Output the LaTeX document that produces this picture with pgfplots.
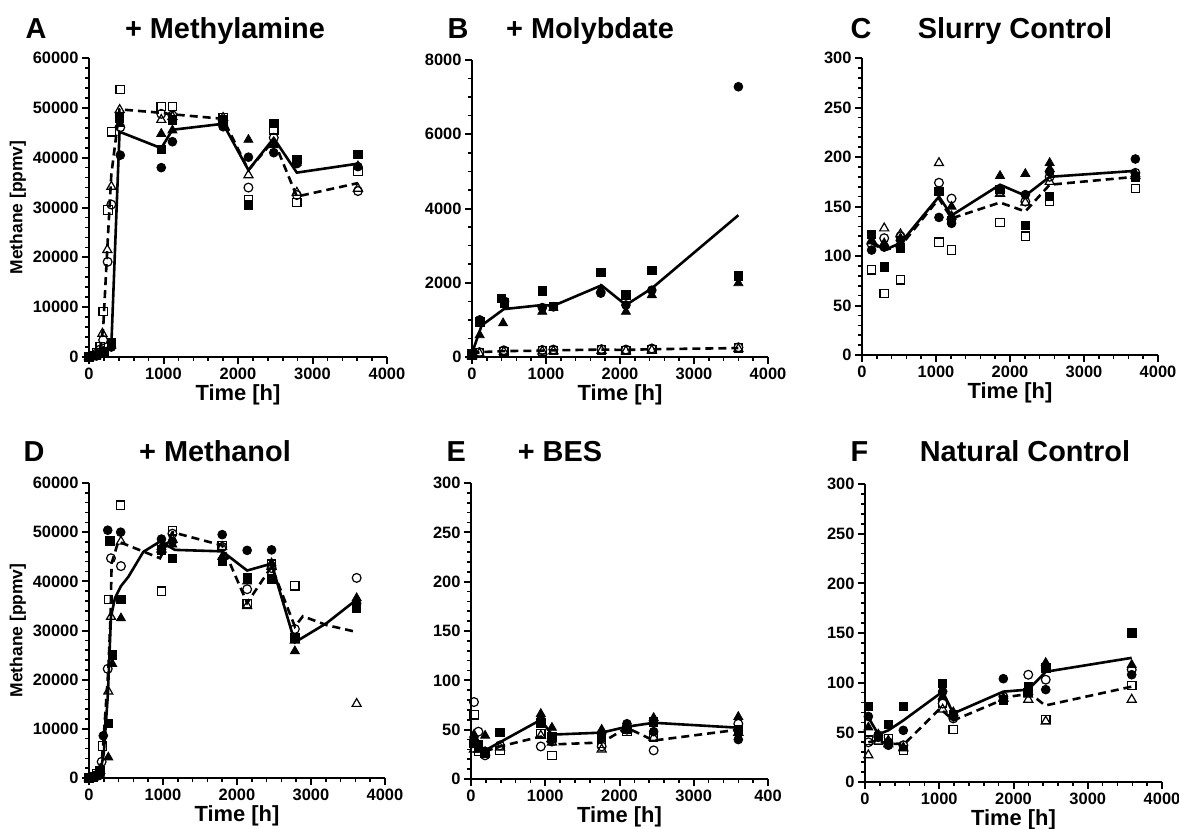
\documentclass[border=0pt]{standalone}
\usepackage{fontspec}
\setmainfont{Liberation Sans}
\usepackage{pgfplots}
\pgfplotsset{compat=1.18}

\pgfplotsset{
  panel/.style={
    scale only axis,
    axis lines=left, axis line style={line width=2.3bp,-},
    xmin=0, xmax=4000, ymin=0,
    xtick={0,1000,2000,3000,4000}, minor x tick num=4,
    tick align=outside, major tick length=7bp, minor tick length=4bp,
    major tick style={line width=2bp,black}, minor tick style={line width=1.6bp,black},
    tick label style={font=\fontsize{16.5}{19}\selectfont\bfseries},
    /pgf/number format/assume math mode=true,
    /pgf/number format/1000 sep={},
    scaled ticks=false,
    clip=false,
    xlabel={Time [h]},
    xlabel style={font=\fontsize{22}{26}\selectfont\bfseries, yshift=1bp},
  },
  big/.style={ymax=60000, ytick={0,10000,...,60000}, minor y tick num=4},
  small/.style={ymax=300, ytick={0,50,...,300}, minor y tick num=4},
  fc/.style={only marks, mark=*, mark size=4.4bp, black, mark options={solid, fill=black, line width=0.8bp}},
  fs/.style={only marks, mark=square*, mark size=4.2bp, black, mark options={solid, fill=black, line width=0.8bp}},
  ft/.style={only marks, mark=triangle*, mark size=5.2bp, black, mark options={solid, fill=black, line width=0.8bp}},
  oc/.style={only marks, mark=o, mark size=4.4bp, black, mark options={solid, line width=1.2bp}},
  os/.style={only marks, mark=square, mark size=4.2bp, black, mark options={solid, line width=1.2bp}},
  ot/.style={only marks, mark=triangle, mark size=5.2bp, black, mark options={solid, line width=1.2bp}},
  ml/.style={no marks, black, line width=2.6bp},
  dl/.style={no marks, black, line width=2.6bp, dash pattern=on 8bp off 5bp},
}

\newcommand{\ttl}{\fontsize{29}{33}\selectfont\bfseries}

\begin{document}
\begin{tikzpicture}
\useasboundingbox (0,0) rectangle (1179bp,-829bp);

% ---------- A: + Methylamine
\begin{axis}[panel, big, at={(89bp,-357bp)}, anchor=south west, width=298bp, height=299bp,
  ylabel={Methane [ppmv]}, ylabel style={font=\fontsize{17.5}{20}\selectfont\bfseries}]
\addplot[ml] coordinates {(0,0)(100,100)(200,500)(300,2400)(410,45200)(970,41900)(1120,45600)(1800,46800)(2140,37500)(2480,43900)(2790,37000)(3610,38800)};
\addplot[dl] coordinates {(0,0)(50,300)(100,700)(150,1800)(190,5700)(250,23000)(300,36700)(410,49700)(970,49000)(1120,48700)(1800,47800)(2140,37500)(2480,43500)(2790,32200)(3610,34900)};
\addplot[oc] coordinates {(0,0)(50,200)(100,700)(150,1500)(190,3400)(250,19100)(300,30600)(420,46100)(970,48800)(1120,48500)(1800,47500)(2140,34000)(2480,44000)(2790,32500)(3610,33300)};
\addplot[os] coordinates {(0,0)(50,300)(100,900)(150,2100)(190,9100)(255,29500)(300,45200)(420,53700)(970,50300)(1120,50300)(1800,48000)(2140,31500)(2480,45600)(2790,31000)(3610,37200)};
\addplot[ot] coordinates {(0,0)(50,200)(100,600)(180,4700)(246,21500)(300,34200)(412,49600)(970,47600)(1120,48200)(1800,48000)(2140,36500)(2480,43000)(2790,33000)(3610,33800)};
\addplot[fc] coordinates {(0,0)(100,200)(200,800)(300,2000)(420,40500)(970,38000)(1120,43200)(1800,46200)(2140,40100)(2480,41000)(2790,38800)(3610,38200)};
\addplot[fs] coordinates {(0,0)(100,300)(200,1000)(300,2800)(412,48000)(970,41700)(1120,47600)(1800,47600)(2140,30500)(2480,46900)(2790,39700)(3610,40600)};
\addplot[ft] coordinates {(0,0)(100,200)(200,700)(300,2300)(412,46800)(970,44800)(1120,45500)(1800,47000)(2140,43600)(2480,42500)(2790,39000)(3610,38300)};
\end{axis}

% ---------- B: + Molybdate
\begin{axis}[panel, at={(472bp,-357bp)}, anchor=south west, width=296bp, height=297bp,
  ymax=8000, ytick={0,2000,...,8000}, minor y tick num=3]
\addplot[ml] coordinates {(0,100)(130,850)(430,1290)(950,1400)(1100,1380)(1750,1930)(2080,1400)(2430,1850)(3600,3820)};
\addplot[dl] coordinates {(0,50)(100,130)(430,160)(950,170)(1100,180)(1750,200)(2080,190)(2430,210)(3600,240)};
\addplot[oc] coordinates {(0,50)(100,130)(430,180)(950,190)(1100,200)(1750,210)(2080,200)(2430,230)(3600,260)};
\addplot[os] coordinates {(0,40)(100,110)(430,150)(950,160)(1100,170)(1750,190)(2080,170)(2430,200)(3600,240)};
\addplot[ot] coordinates {(0,30)(100,100)(430,140)(950,150)(1100,160)(1750,170)(2080,160)(2430,180)(3600,220)};
\addplot[fc] coordinates {(0,50)(104,1000)(440,1500)(950,1330)(1100,1350)(1740,1720)(2080,1400)(2430,1800)(3600,7280)};
\addplot[fs] coordinates {(0,100)(104,950)(400,1580)(440,1460)(950,1780)(1100,1360)(1740,2280)(2080,1670)(2430,2340)(3600,2190)};
\addplot[ft] coordinates {(0,50)(104,590)(420,910)(950,1220)(1100,1330)(1740,1820)(2080,1220)(2430,1670)(3600,1990)};
\end{axis}

% ---------- C: Slurry Control
\begin{axis}[panel, small, at={(862bp,-355bp)}, anchor=south west, width=296bp, height=297bp]
\addplot[ml] coordinates {(130,115)(300,106)(520,113)(1040,160)(1210,141)(1865,172)(2207,161)(2536,180)(3694,186)};
\addplot[dl] coordinates {(130,113)(300,106)(520,110)(1040,158)(1210,138)(1865,154)(2207,145)(2536,172)(3694,180)};
\addplot[oc] coordinates {(130,112)(300,118)(520,120)(1040,174)(1210,158)(1865,165)(2207,155)(2536,180)(3694,184)};
\addplot[os] coordinates {(130,86)(300,62)(520,76)(1040,114)(1210,106)(1865,134)(2207,120)(2536,155)(3694,168)};
\addplot[ot] coordinates {(130,115)(300,128)(520,122)(1040,194)(1210,140)(1865,163)(2207,154)(2536,175)(3694,181)};
\addplot[fc] coordinates {(130,106)(300,109)(520,116)(1040,139)(1210,133)(1865,167)(2207,162)(2536,185)(3694,198)};
\addplot[fs] coordinates {(130,122)(300,89)(520,108)(1040,165)(1210,136)(1865,167)(2207,131)(2536,160)(3694,180)};
\addplot[ft] coordinates {(130,116)(300,113)(520,118)(1040,165)(1210,150)(1865,181)(2207,183)(2536,194)(2536,188)(3694,183)};
\end{axis}

% ---------- D: + Methanol
\begin{axis}[panel, big, at={(89bp,-778bp)}, anchor=south west, width=296bp, height=295bp,
  ylabel={Methane [ppmv]}, ylabel style={font=\fontsize{17.5}{20}\selectfont\bfseries}]
\addplot[ml] coordinates {(0,0)(100,300)(150,1000)(200,5000)(255,17000)(297,32800)(351,36600)(430,39000)(531,40900)(734,46000)(960,48100)(1162,46400)(1800,46100)(2137,42200)(2467,43600)(2782,27600)(3211,31500)(3617,36300)};
\addplot[dl] coordinates {(0,0)(100,400)(171,3300)(193,7100)(261,22000)(290,32500)(306,43700)(396,48100)(960,44700)(1127,50000)(1800,47300)(2137,35600)(2467,43000)(2782,30800)(2890,32900)(3211,31100)(3617,29700)};
\addplot[oc] coordinates {(0,0)(50,200)(100,600)(171,3300)(253,22200)(297,44700)(432,43100)(979,47500)(1127,49700)(1800,47000)(2137,38400)(2467,42700)(2782,30300)(3617,40700)};
\addplot[os] coordinates {(0,0)(50,300)(100,900)(180,6500)(261,36300)(428,55500)(979,38000)(1127,50300)(1800,47300)(2137,35500)(2467,43500)(2782,39100)(3617,34500)};
\addplot[ot] coordinates {(0,0)(50,200)(100,500)(150,1500)(261,17600)(297,32800)(432,48100)(979,46500)(1127,48500)(1800,47000)(2137,35000)(2467,43000)(2782,28000)(3617,15100)};
\addplot[fc] coordinates {(0,0)(50,100)(100,300)(150,800)(193,8600)(253,50400)(428,50000)(979,48600)(1127,48100)(1800,49500)(2137,46300)(2467,46400)(2782,28500)(3617,35500)};
\addplot[fs] coordinates {(0,0)(50,200)(100,500)(150,1600)(261,11100)(284,48200)(315,25000)(432,36300)(979,46400)(1127,44700)(1800,44100)(2137,40700)(2467,40500)(2782,28500)(3617,34600)};
\addplot[ft] coordinates {(0,0)(50,100)(100,300)(150,900)(261,4200)(315,23200)(432,32500)(979,47000)(1127,47500)(1800,45000)(2137,40000)(2467,43700)(2782,25800)(3617,36600)};
\end{axis}

% ---------- E: + BES
\begin{axis}[panel, small, at={(471bp,-779bp)}, anchor=south west, width=297bp, height=296bp,
  xticklabels={0,1000,2000,3000,400}]
\addplot[ml] coordinates {(40,38)(190,29)(940,60)(1090,45)(1760,47)(2100,53)(2460,57)(3600,52)};
\addplot[dl] coordinates {(40,35)(190,28)(390,33)(940,43)(1090,35)(1760,37)(2100,52)(2460,39)(3600,50)};
\addplot[oc] coordinates {(40,78)(100,48)(190,24)(390,34)(940,33)(1090,38)(1760,33)(2100,50)(2460,29)(3600,56)};
\addplot[os] coordinates {(40,65)(100,28)(190,26)(390,29)(940,46)(1090,24)(1760,36)(2100,48)(2460,42)(3600,50)};
\addplot[ot] coordinates {(40,30)(100,30)(190,27)(390,32)(940,44)(1090,37)(1760,30)(2100,50)(2460,42)(3600,47)};
\addplot[fc] coordinates {(40,40)(100,33)(190,28)(940,60)(1090,40)(1760,46)(2100,56)(2460,48)(3600,40)};
\addplot[fs] coordinates {(40,36)(100,35)(190,27)(390,47)(940,57)(1090,43)(1760,42)(2100,50)(2460,58)(3600,49)};
\addplot[ft] coordinates {(40,45)(100,30)(190,44)(940,66)(1090,52)(1760,50)(2100,55)(2460,62)(3600,63)};
\end{axis}

% ---------- F: Natural Control
\begin{axis}[panel, small, at={(865bp,-782bp)}, anchor=south west, width=297bp, height=298bp]
\addplot[ml] coordinates {(45,65)(179,48)(314,52)(516,62)(1046,91)(1189,69)(1863,91)(2199,93)(2434,111)(3592,125)};
\addplot[dl] coordinates {(45,40)(179,42)(314,38)(539,39)(1011,74)(1191,62)(1955,86)(2225,89)(2427,77)(3592,96)};
\addplot[oc] coordinates {(45,40)(179,47)(314,40)(516,37)(1046,79)(1189,64)(1863,86)(2199,108)(2434,103)(3592,113)};
\addplot[os] coordinates {(45,42)(179,42)(314,44)(516,32)(1046,79)(1189,53)(1863,82)(2199,90)(2434,63)(3592,97)};
\addplot[ot] coordinates {(45,27)(179,41)(314,38)(516,34)(1046,73)(1189,70)(1863,84)(2199,83)(2434,61)(3592,83)};
\addplot[fc] coordinates {(45,66)(179,45)(314,37)(516,52)(1046,91)(1189,66)(1863,104)(2199,92)(2434,93)(3592,108)};
\addplot[fs] coordinates {(45,76)(179,46)(314,58)(516,76)(1046,99)(1189,68)(1863,83)(2199,96)(2434,115)(3592,150)};
\addplot[ft] coordinates {(45,55)(179,48)(314,42)(516,35)(1046,86)(1189,68)(1863,85)(2199,88)(2434,120)(3592,118)};
\end{axis}

% ---------- panel letters and titles
\node[font=\ttl, anchor=base west] at (22bp,-38bp) {A};
\node[font=\ttl, anchor=base] at (225bp,-38bp) {+ Methylamine};
\node[font=\ttl, anchor=base west] at (444bp,-38bp) {B};
\node[font=\ttl, anchor=base] at (590bp,-38bp) {+ Molybdate};
\node[font=\ttl, anchor=base west] at (847bp,-38bp) {C};
\node[font=\ttl, anchor=base] at (1015bp,-38bp) {Slurry Control};
\node[font=\ttl, anchor=base west] at (20bp,-461bp) {D};
\node[font=\ttl, anchor=base] at (215bp,-461bp) {+ Methanol};
\node[font=\ttl, anchor=base west] at (443bp,-461bp) {E};
\node[font=\ttl, anchor=base] at (560bp,-461bp) {+ BES};
\node[font=\ttl, anchor=base west] at (847bp,-461bp) {F};
\node[font=\ttl, anchor=base] at (1025bp,-461bp) {Natural Control};
\end{tikzpicture}
\end{document}
